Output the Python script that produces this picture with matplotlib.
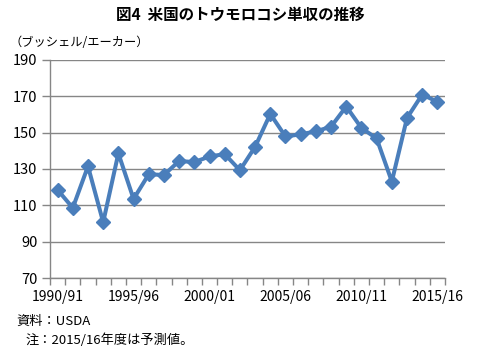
import matplotlib
matplotlib.use("Agg")
import matplotlib.pyplot as plt
import numpy as np

plt.rcParams['font.family'] = ['Noto Sans CJK JP', 'DejaVu Sans']

years = ["1990/91", "1991/92", "1992/93", "1993/94", "1994/95", "1995/96", "1996/97",
         "1997/98", "1998/99", "1999/00", "2000/01", "2001/02", "2002/03", "2003/04",
         "2004/05", "2005/06", "2006/07", "2007/08", "2008/09", "2009/10", "2010/11",
         "2011/12", "2012/13", "2013/14", "2014/15", "2015/16"]
yields = [118.5, 108.6, 131.5, 100.7, 138.6, 113.5, 127.1, 126.7, 134.4, 133.8, 136.9,
          138.2, 129.3, 142.2, 160.3, 147.9, 149.1, 150.7, 153.3, 164.4, 152.6, 146.8,
          123.1, 158.1, 171.0, 167.0]
yticks = [70, 90, 110, 130, 150, 170, 190]

fig = plt.figure(figsize=(4.81, 3.59), dpi=100)
ax = fig.add_axes([50/481, 1-278/359, 395/481, 218/359])

x = np.arange(len(years))
ax.plot(x, yields, color='#4A7EBB', lw=2.9, marker='D', ms=6.8,
        markerfacecolor='#4A7EBB', markeredgecolor='#4A7EBB', zorder=3)

ax.set_xlim(-0.5, len(years) - 0.5)
ax.set_ylim(70, 190)
ax.set_yticks(yticks)
ax.set_yticklabels([str(v) for v in yticks], fontsize=10.5)
ax.yaxis.grid(True, color='#868686', lw=1)
ax.set_axisbelow(True)

ax.set_xticks(np.arange(-0.5, len(years), 1.0))
ax.set_xticklabels([])
ax.set_xticks(x[::5], minor=True)
ax.set_xticklabels([years[i] for i in x[::5]], minor=True, fontsize=10)
ax.tick_params(axis='x', which='major', length=5, color='#868686', width=1)
ax.tick_params(axis='x', which='minor', length=0, pad=9)
ax.tick_params(axis='y', length=6, color='#868686', width=1, pad=3)

for s in ['top', 'right']:
    ax.spines[s].set_visible(False)
for s in ['left', 'bottom']:
    ax.spines[s].set_color('#868686')
    ax.spines[s].set_linewidth(1)

fig.text(0.5, 1-15/359, "図4  米国のトウモロコシ単収の推移", ha='center', va='center',
         fontsize=11.2, fontweight='bold')
fig.text(10/481, 1-42/359, "（ブッシェル/エーカー）", ha='left', va='center', fontsize=8.8)
fig.text(16/481, 1-321/359, "資料：USDA", ha='left', va='center', fontsize=9.5)
fig.text(26/481, 1-340/359, "注：2015/16年度は予測値。", ha='left', va='center', fontsize=9.5)

fig.savefig("out.png", dpi=100)
